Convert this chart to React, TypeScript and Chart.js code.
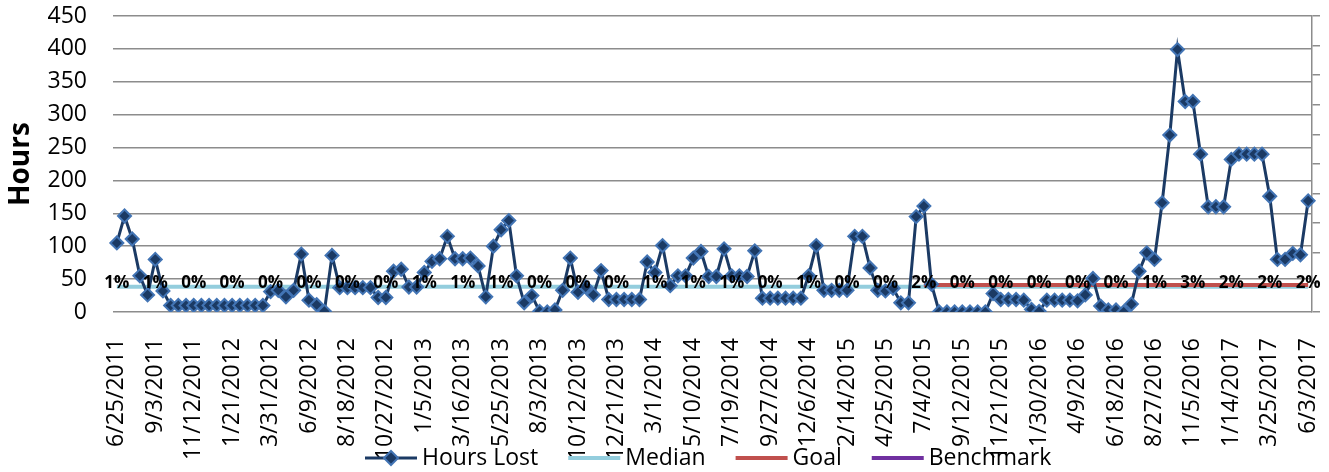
import { useEffect, useRef } from 'react';
import { Chart, registerables } from 'chart.js';

Chart.register(...registerables);

const FONT = "'Open Sans', 'Noto Sans', sans-serif";

// Tick labels shown on the category axis (every 5th biweekly point)
const tickLabels = [
  '6/25/2011', '9/3/2011', '11/12/2011', '1/21/2012', '3/31/2012', '6/9/2012',
  '8/18/2012', '10/27/2012', '1/5/2013', '3/16/2013', '5/25/2013', '8/3/2013',
  '10/12/2013', '12/21/2013', '3/1/2014', '5/10/2014', '7/19/2014', '9/27/2014',
  '12/6/2014', '2/14/2015', '4/25/2015', '7/4/2015', '9/12/2015', '11/21/2015',
  '1/30/2016', '4/9/2016', '6/18/2016', '8/27/2016', '11/5/2016', '1/14/2017',
  '3/25/2017', '6/3/2017',
];
const pointsPerTick = 5;

// Hours Lost (biweekly)
const hoursLost = [
  105, 146, 111, 55, 26, 80, 32, 10, 10, 10,
  10, 10, 10, 10, 10, 10, 10, 10, 10, 10,
  31, 33, 23, 33, 88, 18, 11, 1, 86, 37,
  37, 37, 37, 37, 22, 22, 62, 65, 38, 38,
  60, 77, 81, 115, 81, 81, 82, 70, 23, 100,
  125, 139, 55, 14, 25, 1, 0, 3, 33, 82,
  30, 38, 26, 63, 19, 19, 19, 19, 19, 76,
  60, 101, 40, 55, 55, 82, 92, 54, 54, 96,
  55, 55, 54, 93, 21, 21, 21, 21, 21, 21,
  55, 101, 33, 33, 33, 33, 115, 115, 67, 33,
  32, 36, 14, 14, 145, 161, 42, 0, 0, 0,
  0, 0, 0, 0, 28, 19, 19, 19, 18, 4,
  1, 18, 18, 18, 18, 17, 26, 51, 9, 3,
  3, 0, 12, 62, 90, 80, 166, 269, 399, 320,
  320, 240, 160, 160, 160, 232, 240, 240, 240, 240,
  176, 80, 80, 89, 87, 169,
];

// Percent labels shown at each labelled date
const pctLabels = [
  '1%', '1%', '0%', '0%', '0%', '0%', '0%', '0%', '1%', '1%',
  '1%', '0%', '0%', '0%', '1%', '1%', '1%', '0%', '1%', '0%',
  '0%', '2%', '0%', '0%', '0%', '0%', '0%', '1%', '3%', '2%',
  '2%', '2%',
];

const medianValue = 38.5;
const goalValue = 41;
const goalStart = '7/4/2015';

const categories = hoursLost.map((_, i) =>
  i % pointsPerTick === 0 ? tickLabels[i / pointsPerTick] ?? '' : ''
);
const goalStartIndex = categories.indexOf(goalStart);
const medianData = hoursLost.map(() => medianValue);
const goalData = hoursLost.map((_, i) => (i >= goalStartIndex ? goalValue : null));
const benchmarkData = hoursLost.map(() => null);

const NAVY = '#1b3a64';
const MARKER_EDGE = '#4274b4';
const GRID = '#8c8c8c';

const pctLabelPlugin = {
  id: 'pctLabels',
  afterDatasetsDraw(chart: any) {
    const { ctx } = chart;
    const xs = chart.scales.x;
    const ys = chart.scales.y;
    ctx.save();
    ctx.font = `bold 17px ${FONT}`;
    ctx.fillStyle = '#000';
    ctx.textAlign = 'center';
    ctx.textBaseline = 'alphabetic';
    pctLabels.forEach((t, k) => {
      const x = xs.getPixelForValue(k * pointsPerTick);
      const y = ys.getPixelForValue(medianValue) + 1;
      ctx.fillText(t, x, y);
    });
    ctx.restore();
  },
};

const legendPlugin = {
  id: 'customLegend',
  afterDraw(chart: any) {
    const { ctx } = chart;
    const y = 458;
    let x = 365;
    ctx.save();
    ctx.font = `23px ${FONT}`;
    ctx.textBaseline = 'middle';
    ctx.textAlign = 'left';
    chart.data.datasets.forEach((ds: any, i: number) => {
      ctx.strokeStyle = ds.borderColor;
      ctx.lineWidth = ds.borderWidth;
      ctx.lineCap = 'butt';
      ctx.beginPath();
      ctx.moveTo(x, y);
      ctx.lineTo(x + 52, y);
      ctx.stroke();
      if (i === 0) {
        const cx = x + 26;
        const r = 7;
        ctx.beginPath();
        ctx.moveTo(cx - r, y);
        ctx.lineTo(cx, y - r);
        ctx.lineTo(cx + r, y);
        ctx.lineTo(cx, y + r);
        ctx.closePath();
        ctx.fillStyle = NAVY;
        ctx.fill();
        ctx.lineWidth = 2;
        ctx.strokeStyle = MARKER_EDGE;
        ctx.stroke();
      }
      ctx.fillStyle = '#000';
      ctx.fillText(ds.label, x + 57, y);
      x += 57 + ctx.measureText(ds.label).width + 30;
    });
    ctx.restore();
  },
};

export default function App() {
  const ref = useRef<HTMLCanvasElement | null>(null);

  useEffect(() => {
    if (!ref.current) return;
    const chart = new Chart(ref.current, {
      type: 'line',
      data: {
        labels: categories,
        datasets: [
          {
            label: 'Hours Lost',
            data: hoursLost,
            borderColor: NAVY,
            borderWidth: 3,
            pointStyle: 'rectRot',
            pointRadius: 6.5,
            pointBackgroundColor: NAVY,
            pointBorderColor: MARKER_EDGE,
            pointBorderWidth: 2,
            tension: 0,
            order: 0,
          },
          {
            label: 'Median',
            data: medianData,
            borderColor: '#93cddd',
            borderWidth: 4,
            pointRadius: 0,
            order: 2,
          },
          {
            label: 'Goal',
            data: goalData,
            borderColor: '#c0504d',
            borderWidth: 4,
            pointRadius: 0,
            order: 1,
          },
          {
            label: 'Benchmark',
            data: benchmarkData,
            borderColor: '#7030a0',
            borderWidth: 4,
            pointRadius: 0,
            order: 3,
          },
        ],
      },
      options: {
        responsive: false,
        animation: false,
        devicePixelRatio: 1,
        layout: { autoPadding: false, padding: { top: 16, left: 0, right: 0, bottom: 0 } },
        plugins: {
          legend: { display: false },
          tooltip: { enabled: false },
        },
        scales: {
          x: {
            type: 'category',
            offset: true,
            grid: { display: false },
            border: { display: false },
            ticks: {
              autoSkip: false,
              minRotation: 90,
              maxRotation: 90,
              padding: 18,
              color: '#000',
              font: { family: FONT, size: 23 },
            },
            afterFit: (s: any) => {
              s.height = 160;
              s.paddingLeft = 0;
              s.paddingRight = 0;
            },
          },
          y: {
            position: 'left',
            min: 0,
            max: 450,
            ticks: {
              stepSize: 50,
              autoSkip: false,
              padding: 26,
              color: '#000',
              font: { family: FONT, size: 23 },
            },
            grid: { color: GRID, lineWidth: 1.5, drawTicks: false },
            border: { display: false },
            title: {
              display: true,
              text: 'Hours',
              color: '#000',
              font: { family: FONT, size: 28, weight: 'bold' },
              padding: { top: 4, bottom: 0 },
            },
            afterFit: (s: any) => {
              s.width = 113;
              s.paddingTop = 0;
              s.paddingBottom = 0;
            },
          },
          y1: {
            position: 'right',
            min: 0,
            max: 0.1,
            ticks: { display: false, stepSize: 0.01, autoSkip: false },
            grid: {
              drawOnChartArea: false,
              drawTicks: true,
              tickLength: 8,
              color: GRID,
              lineWidth: 1.5,
            },
            border: { display: true, color: GRID, width: 1.5 },
            afterFit: (s: any) => {
              s.width = 17;
              s.paddingTop = 0;
              s.paddingBottom = 0;
            },
          },
        },
      },
      plugins: [pctLabelPlugin, legendPlugin],
    });
    return () => chart.destroy();
  }, []);

  return (
    <div style={{ position: 'absolute', left: 0, top: 0, width: 1329, height: 472, background: '#fff' }}>
      <canvas ref={ref} width={1329} height={472} style={{ display: 'block' }} />
    </div>
  );
}
